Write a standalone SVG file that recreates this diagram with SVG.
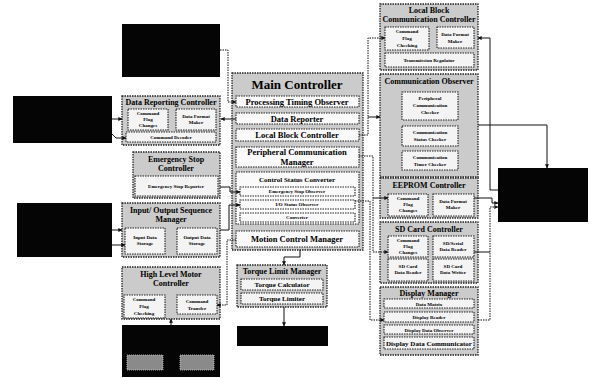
<svg xmlns="http://www.w3.org/2000/svg" width="594" height="378" viewBox="0 0 594 378">
<defs>
<marker id="ah" viewBox="0 0 6 6" refX="5.5" refY="3" markerWidth="4" markerHeight="4" orient="auto"><path d="M0,0 L6,3 L0,6 z" fill="#111"/></marker>
<style>
.blk{fill:#050505}
.nd{fill:#cbcbcb;stroke:#222;stroke-width:1.3;stroke-dasharray:1.5 1}
.in{fill:#f4f4f4;stroke:#222;stroke-width:1.1;stroke-dasharray:1.5 1}
.row{fill:#fafafa;stroke:#222;stroke-width:1.1;stroke-dasharray:1.5 1}
.bin{fill:#8a8a8a;stroke:#ccc;stroke-width:0.8;stroke-dasharray:1 1}
text{font-family:"Liberation Serif","Times New Roman",serif;font-weight:bold;fill:#000;text-anchor:middle}
.t{font-size:8px}
.r{font-size:8.5px}
.r2{font-size:7px}
.s{font-size:5px}
.m{font-size:13px}
.sl{fill:none;stroke:#111;stroke-width:1}
.dl{fill:none;stroke:#111;stroke-width:1;stroke-dasharray:1.5 1}
</style>
</defs>
<rect width="594" height="378" fill="#fff"/>

<g id="black-boxes">
<rect class="blk" x="122" y="24" width="98" height="53"/>
<rect class="blk" x="13" y="96" width="99" height="47"/>
<rect class="blk" x="17" y="203" width="95" height="54"/>
<rect class="blk" x="122" y="325" width="98" height="52"/>
<rect class="bin" x="127" y="355" width="36" height="15"/>
<rect class="bin" x="180" y="355" width="34" height="15"/>
<rect class="blk" x="237" y="326" width="91" height="20"/>
<rect class="blk" x="498" y="168" width="90" height="54"/>
</g>

<g id="data-reporting-controller">
<rect class="nd" x="122" y="96" width="98" height="49"/>
<text class="t" x="171" y="105">Data Reporting Controller</text>
<rect class="in" x="128" y="109" width="40" height="21"/>
<text class="s" x="148" y="115">Command</text><text class="s" x="148" y="121">Flag</text><text class="s" x="148" y="127">Changes</text>
<rect class="in" x="176" y="109" width="40" height="21"/>
<text class="s" x="196" y="118">Data Format</text><text class="s" x="196" y="124">Maker</text>
<rect class="in" x="126" y="132" width="90" height="10"/>
<text class="s" x="171" y="139">Command Decoder</text>
</g>

<g id="emergency-stop-controller">
<rect class="nd" x="133" y="152" width="87" height="46"/>
<text class="t" x="176" y="162">Emergency Stop</text>
<text class="t" x="176" y="171">Controller</text>
<rect class="in" x="135" y="176" width="83" height="20"/>
<text class="s" x="176" y="188">Emergency Stop Reporter</text>
</g>

<g id="io-sequence-manager">
<rect class="nd" x="122" y="203" width="98" height="54"/>
<text class="t" x="171" y="213">Input/ Output Sequence</text>
<text class="t" x="171" y="222">Manager</text>
<rect class="in" x="125" y="228" width="40" height="26"/>
<text class="s" x="145" y="239">Input Data</text><text class="s" x="145" y="245">Storage</text>
<rect class="in" x="177" y="228" width="40" height="26"/>
<text class="s" x="197" y="239">Output Data</text><text class="s" x="197" y="245">Storage</text>
</g>

<g id="high-level-motor-controller">
<rect class="nd" x="122" y="267" width="98" height="52"/>
<text class="t" x="171" y="277">High Level Motor</text>
<text class="t" x="171" y="286">Controller</text>
<rect class="in" x="124" y="295" width="41" height="23"/>
<text class="s" x="144" y="301">Command</text><text class="s" x="144" y="308">Flag</text><text class="s" x="144" y="315">Checking</text>
<rect class="in" x="177" y="295" width="40" height="19"/>
<text class="s" x="197" y="303">Command</text><text class="s" x="197" y="310">Transfer</text>
</g>

<g id="main-controller">
<rect class="nd" x="232" y="73" width="131" height="177"/>
<text class="m" x="297" y="89">Main Controller</text>
<rect class="row" x="236" y="96" width="123" height="11"/>
<text class="r" x="297" y="104.5">Processing Timing Observer</text>
<rect class="row" x="236" y="113" width="123" height="11"/>
<text class="r" x="297" y="121.5">Data Reporter</text>
<rect class="row" x="236" y="129" width="123" height="12"/>
<text class="r" x="297" y="138">Local Block Controller</text>
<rect class="row" x="236" y="147" width="123" height="20"/>
<text class="r" x="297" y="155">Peripheral Communication</text>
<text class="r" x="297" y="164.5">Manager</text>
<rect class="row" x="236" y="172" width="123" height="52"/>
<text class="r2" x="297" y="182">Control Status Converter</text>
<rect class="row" x="240" y="187" width="115" height="9"/>
<text class="s" x="297" y="193">Emergency Stop Observer</text>
<rect class="row" x="240" y="200" width="115" height="9"/>
<text class="s" x="297" y="206">I/O Status Observer</text>
<rect class="row" x="240" y="213" width="115" height="9"/>
<text class="s" x="297" y="219">Converter</text>
<rect class="row" x="236" y="231" width="123" height="16"/>
<text class="r" x="297" y="242">Motion Control Manager</text>
</g>

<g id="torque-limit-manager">
<rect class="nd" x="237" y="265" width="90" height="42"/>
<text class="t" x="282" y="274">Torque Limit Manager</text>
<rect class="in" x="241" y="279" width="82" height="11"/>
<text class="r2" x="282" y="287">Torque Calculator</text>
<rect class="in" x="241" y="293" width="82" height="11"/>
<text class="r2" x="282" y="301">Torque Limiter</text>
</g>

<g id="local-block-communication-controller">
<rect class="nd" x="380" y="4" width="98" height="66"/>
<text class="t" x="429" y="13">Local Block</text>
<text class="t" x="429" y="22">Communication Controller</text>
<rect class="in" x="385" y="27" width="44" height="23"/>
<text class="s" x="407" y="33">Command</text><text class="s" x="407" y="40">Flag</text><text class="s" x="407" y="47">Checking</text>
<rect class="in" x="437" y="27" width="37" height="21"/>
<text class="s" x="455" y="36">Data Format</text><text class="s" x="455" y="43">Maker</text>
<rect class="in" x="385" y="53" width="89" height="14"/>
<text class="s" x="429" y="62">Transmission Regulator</text>
</g>

<g id="communication-observer">
<rect class="nd" x="380" y="74" width="98" height="103"/>
<text class="t" x="429" y="84">Communication Observer</text>
<rect class="in" x="402" y="92" width="56" height="28"/>
<text class="s" x="430" y="100">Peripheral</text><text class="s" x="430" y="107">Communication</text><text class="s" x="430" y="114">Checker</text>
<rect class="in" x="402" y="126" width="56" height="20"/>
<text class="s" x="430" y="134">Communication</text><text class="s" x="430" y="141">Status Checker</text>
<rect class="in" x="402" y="151" width="56" height="19"/>
<text class="s" x="430" y="159">Communication</text><text class="s" x="430" y="166">Timer Checker</text>
</g>

<g id="eeprom-controller">
<rect class="nd" x="380" y="178" width="98" height="40"/>
<text class="t" x="429" y="188">EEPROM Controller</text>
<rect class="in" x="388" y="194" width="40" height="22"/>
<text class="s" x="408" y="200">Command</text><text class="s" x="408" y="206">Flag</text><text class="s" x="408" y="212">Changes</text>
<rect class="in" x="433" y="194" width="41" height="22"/>
<text class="s" x="453" y="203">Data Format</text><text class="s" x="453" y="209">Maker</text>
</g>

<g id="sd-card-controller">
<rect class="nd" x="380" y="222" width="98" height="61"/>
<text class="t" x="429" y="232">SD Card Controller</text>
<rect class="in" x="388" y="236" width="40" height="21"/>
<text class="s" x="408" y="242">Command</text><text class="s" x="408" y="248">Flag</text><text class="s" x="408" y="254">Changes</text>
<rect class="in" x="433" y="236" width="41" height="21"/>
<text class="s" x="453" y="245">SD/Serial</text><text class="s" x="453" y="251">Data Reader</text>
<rect class="in" x="388" y="259" width="40" height="22"/>
<text class="s" x="408" y="268">SD Card</text><text class="s" x="408" y="274">Data Reader</text>
<rect class="in" x="433" y="259" width="41" height="22"/>
<text class="s" x="453" y="268">SD Card</text><text class="s" x="453" y="274">Data Writer</text>
</g>

<g id="display-manager">
<rect class="nd" x="380" y="287" width="98" height="68"/>
<text class="t" x="429" y="296">Display Manager</text>
<rect class="in" x="384" y="299" width="90" height="9"/>
<text class="s" x="429" y="305.5">Data Matrix</text>
<rect class="in" x="384" y="312" width="90" height="10"/>
<text class="s" x="429" y="319">Display Reader</text>
<rect class="in" x="384" y="325" width="90" height="9"/>
<text class="s" x="429" y="331.5">Display Data Observer</text>
<rect class="in" x="384" y="337" width="90" height="12"/>
<text class="r2" x="429" y="345.5">Display Data Communicator</text>
</g>

<g id="connectors">
<path class="dl" d="M220,50 H228 V102 H236" marker-end="url(#ah)"/>
<path class="sl" d="M236,119 H221" marker-end="url(#ah)"/>
<path class="sl" d="M112,119 H122" marker-end="url(#ah)"/>
<path class="sl" d="M112,134 L116,138 H126" marker-end="url(#ah)"/>
<path class="sl" d="M220,187 H230 V192 H240" marker-end="url(#ah)"/>
<path class="sl" d="M220,230 H229 V205 H240" marker-end="url(#ah)"/>
<path class="sl" d="M112,230 H122" marker-end="url(#ah)"/>
<path class="sl" d="M112,245 H125" marker-end="url(#ah)"/>
<path class="dl" d="M236,240 H227 V305 H217" marker-end="url(#ah)"/>
<path class="sl" d="M300,250 V257 H284 V265" marker-end="url(#ah)"/>
<path class="sl" d="M284,307 V326" marker-end="url(#ah)"/>
<path class="sl" d="M171,325 V319" marker-end="url(#ah)"/>
<path class="dl" d="M359,135 H368 V38 H385" marker-end="url(#ah)"/>
<path class="sl" d="M368,117 H380" marker-end="url(#ah)"/>
<path class="dl" d="M359,156 H373 V252 H388" marker-end="url(#ah)"/>
<path class="sl" d="M373,198 H388" marker-end="url(#ah)"/>
<path class="dl" d="M355,201 H370 V320 H384" marker-end="url(#ah)"/>
<path class="sl" d="M498,190 H490 V38 H478" marker-end="url(#ah)"/>
<path class="sl" d="M478,125 H547 V168" marker-end="url(#ah)"/>
<path class="sl" d="M474,198 H492 V203 H498" marker-end="url(#ah)"/>
<path class="dl" d="M478,320 H490 V207 H498" marker-end="url(#ah)"/>
<path class="sl" d="M474,252 H490"/>
</g>
</svg>
